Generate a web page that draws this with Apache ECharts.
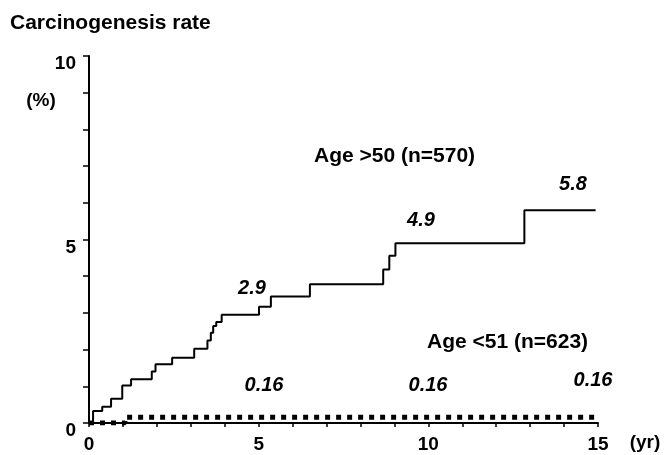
<!DOCTYPE html>
<html>
<head>
<meta charset="utf-8">
<script src="https://cdn.jsdelivr.net/npm/echarts@6/dist/echarts.min.js"></script>
<style>
html,body{margin:0;padding:0;background:#fff;}
#c{width:666px;height:455px;}
</style>
</head>
<body>
<div id="c"></div>
<script>
// Age >50 (n=570): cumulative rate steps (years, %)
const years50 = [0, 0.12, 0.39, 0.65, 0.98, 1.24, 1.85, 1.96, 2.45, 3.10, 3.49, 3.59, 3.66, 3.75, 3.91, 5.01, 5.36, 6.51, 8.67, 8.85, 9.03, 12.83, 14.93];
const rates50 = [0, 0.33, 0.44, 0.66, 1.02, 1.19, 1.40, 1.60, 1.78, 2.02, 2.25, 2.46, 2.64, 2.75, 2.95, 3.17, 3.45, 3.78, 4.18, 4.56, 4.90, 5.80, 5.80];
// Age <51 (n=623)
const years51 = [0, 1.06, 15];
const rates51 = [0, 0.16, 0.16];
// tick labels
const xTickLabels = [0, 5, 10, 15];
const yTickLabels = [0, 5, 10];

const chart = echarts.init(document.getElementById('c'), null, {renderer: 'canvas'});
const F = '"Liberation Sans", Arial, sans-serif';
const numStyle = {fontFamily: F, fontWeight: 'bold', fontStyle: 'italic', fontSize: 20, fill: '#000', align: 'center', verticalAlign: 'middle'};
const txtStyle = {fontFamily: F, fontWeight: 'bold', fontSize: 21, fill: '#000', align: 'left', verticalAlign: 'middle'};

const option = {
  animation: false,
  backgroundColor: '#fff',
  grid: {left: 89, right: 68, top: 56, bottom: 32, containLabel: false},
  xAxis: {
    type: 'value', min: 0, max: 15, interval: 1,
    axisLine: {show: true, lineStyle: {color: '#000', width: 2}},
    axisTick: {show: true, length: 4, lineStyle: {color: '#000', width: 1.5}},
    splitLine: {show: false},
    axisLabel: {
      margin: 12, color: '#000', fontFamily: F, fontWeight: 'bold', fontSize: 19,
      formatter: v => xTickLabels.indexOf(v) >= 0 ? String(v) : ''
    }
  },
  yAxis: {
    type: 'value', min: 0, max: 10, interval: 1,
    axisLine: {show: true, lineStyle: {color: '#000', width: 2}},
    axisTick: {show: true, length: 6, lineStyle: {color: '#000', width: 1.5}},
    splitLine: {show: false},
    axisLabel: {
      margin: 13, color: '#000', fontFamily: F, fontWeight: 'bold', fontSize: 19,
      verticalAlign: 'top', lineHeight: 16,
      formatter: v => yTickLabels.indexOf(v) >= 0 ? String(v) : ''
    }
  },
  series: [
    {
      name: 'Age >50 (n=570)', type: 'line', step: 'end', symbol: 'none',
      data: years50.map((x, i) => [x, rates50[i]]),
      lineStyle: {color: '#000', width: 2}
    },
    {
      name: 'Age <51 (n=623)', type: 'line', step: 'end', symbol: 'none',
      data: years51.map((x, i) => [x, rates51[i]]),
      lineStyle: {color: '#000', width: 5, type: [5, 6], cap: 'butt'}
    }
  ],
  graphic: [
    {type: 'text', left: 10, top: 13, style: {text: 'Carcinogenesis rate', fontFamily: F, fontWeight: 'bold', fontSize: 21, fill: '#000'}},
    {type: 'text', x: 41, y: 101, style: {text: '(%)', fontFamily: F, fontWeight: 'bold', fontSize: 19, fill: '#000', align: 'center', verticalAlign: 'middle'}},
    {type: 'text', x: 645, y: 443, style: {text: '(yr)', fontFamily: F, fontWeight: 'bold', fontSize: 19, fill: '#000', align: 'center', verticalAlign: 'middle'}},
    {type: 'text', x: 314, y: 156, style: Object.assign({}, txtStyle, {text: 'Age >50 (n=570)'})},
    {type: 'text', x: 427, y: 342, style: Object.assign({}, txtStyle, {text: 'Age <51 (n=623)'})},
    {type: 'text', x: 252, y: 288, style: Object.assign({}, numStyle, {text: '2.9'})},
    {type: 'text', x: 421, y: 220, style: Object.assign({}, numStyle, {text: '4.9'})},
    {type: 'text', x: 573, y: 184, style: Object.assign({}, numStyle, {text: '5.8'})},
    {type: 'text', x: 264, y: 385, style: Object.assign({}, numStyle, {text: '0.16'})},
    {type: 'text', x: 428, y: 385, style: Object.assign({}, numStyle, {text: '0.16'})},
    {type: 'text', x: 593, y: 380, style: Object.assign({}, numStyle, {text: '0.16'})}
  ]
};
chart.setOption(option);
</script>
</body>
</html>
